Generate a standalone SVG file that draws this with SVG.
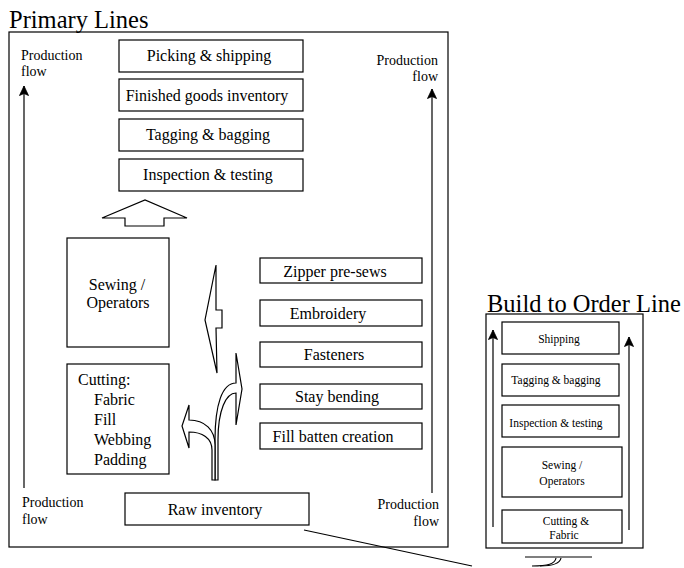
<svg xmlns="http://www.w3.org/2000/svg" width="684" height="568" viewBox="0 0 684 568">
<style>
text{font-family:"Liberation Serif","Times New Roman",serif;fill:#000}
.b{fill:#fff;stroke:#000;stroke-width:1.2}
.f{fill:none;stroke:#000;stroke-width:1.2}
.t16{font-size:16px}
.t14{font-size:14px}
.t11{font-size:11.5px}
.ttl{font-size:24.5px}
.m{text-anchor:middle}
.e{text-anchor:end}
</style>
<defs>
<marker id="ah" markerWidth="11" markerHeight="10" refX="10" refY="5" orient="auto" markerUnits="userSpaceOnUse" viewBox="0 0 11 10">
<path d="M0.5,0.5 L10,5 L0.5,9.5 L2.5,5 Z" fill="#000" stroke="#000" stroke-width="0.8" stroke-linejoin="miter"/>
</marker>
</defs>
<rect width="684" height="568" fill="#fff"/>

<g id="primary-frame">
<text class="ttl" x="9" y="28">Primary Lines</text>
<rect class="f" x="9" y="32" width="439" height="515"/>
</g>

<g id="bto-frame">
<text class="ttl" x="487" y="312">Build to Order Line</text>
<rect class="f" x="486" y="314" width="157" height="234"/>
</g>

<g id="connectors">
<line class="f" x1="24" y1="488" x2="24" y2="86" marker-end="url(#ah)"/>
<line class="f" x1="432" y1="493" x2="432" y2="89" marker-end="url(#ah)"/>
<line class="f" x1="493" y1="527" x2="493" y2="330" marker-end="url(#ah)"/>
<line class="f" x1="629" y1="530" x2="629" y2="337" marker-end="url(#ah)"/>
<line class="f" x1="304" y1="530" x2="472" y2="566"/>
<polygon class="b" points="102,218 145,200 187,218 164,218 164,226 125,226 125,218"/>
<polygon class="b" points="216,265 216,310 222,310 222,328 216,328 217,373 205,320"/>
<path class="b" d="M215,480 L215,440 C215,405 222,383 236,383 L236,353 L242,389 L236,425 L236,393 C226,393 218,410 218,440 L218,480 Z"/>
<path class="b" d="M212,480 L212,450 C212,438 202,432 189,432 L189,448 L182,426 L189,405 L189,420 C205,420 215,430 215,445 L215,480 Z"/>
<path class="f" d="M525,557 L592,557"/>
<path class="f" d="M532,566 C548,566 555,564 556,558"/>
<path class="f" d="M540,566 C552,566 560,563 561,558"/>
</g>

<g id="label-flow-tl"><text class="t14" x="21" y="60">Production</text><text class="t14" x="21" y="76">flow</text></g>
<g id="label-flow-tr"><text class="t14 e" x="438" y="65">Production</text><text class="t14 e" x="438" y="81">flow</text></g>
<g id="label-flow-bl"><text class="t14" x="22" y="507">Production</text><text class="t14" x="22" y="524">flow</text></g>
<g id="label-flow-br"><text class="t14 e" x="439" y="509">Production</text><text class="t14 e" x="439" y="526">flow</text></g>

<g id="picking"><rect class="b" x="119" y="40" width="184" height="32"/><text class="t16 m" x="209" y="61">Picking &amp; shipping</text></g>
<g id="finished"><rect class="b" x="119" y="79" width="184" height="32"/><text class="t16 m" x="207" y="101">Finished goods inventory</text></g>
<g id="tagging"><rect class="b" x="119" y="119" width="184" height="32"/><text class="t16 m" x="208" y="140">Tagging &amp; bagging</text></g>
<g id="inspection"><rect class="b" x="119" y="159" width="184" height="32"/><text class="t16 m" x="208" y="180">Inspection &amp; testing</text></g>

<g id="sewing"><rect class="b" x="67" y="238" width="102" height="109"/><text class="t16 m" x="117" y="290">Sewing /</text><text class="t16 m" x="118" y="308">Operators</text></g>
<g id="cutting"><rect class="b" x="67" y="364" width="102" height="110"/>
<text class="t16" x="78" y="385">Cutting:</text>
<text class="t16" x="94" y="405">Fabric</text>
<text class="t16" x="94" y="425">Fill</text>
<text class="t16" x="94" y="445">Webbing</text>
<text class="t16" x="94" y="465">Padding</text></g>

<g id="zipper"><rect class="b" x="260" y="258" width="162" height="25"/><text class="t16 m" x="335" y="277">Zipper pre-sews</text></g>
<g id="embroidery"><rect class="b" x="260" y="300" width="162" height="26"/><text class="t16 m" x="328" y="319">Embroidery</text></g>
<g id="fasteners"><rect class="b" x="260" y="342" width="162" height="25"/><text class="t16 m" x="334" y="360">Fasteners</text></g>
<g id="stay"><rect class="b" x="260" y="384" width="162" height="25"/><text class="t16 m" x="337" y="402">Stay bending</text></g>
<g id="fillbatten"><rect class="b" x="260" y="423" width="162" height="26"/><text class="t16 m" x="333" y="442">Fill batten creation</text></g>

<g id="raw"><rect class="b" x="125" y="493" width="184" height="32"/><text class="t16 m" x="215" y="515">Raw inventory</text></g>

<g id="bto-shipping"><rect class="b" x="502" y="322" width="117" height="32"/><text class="t11 m" x="559" y="343">Shipping</text></g>
<g id="bto-tagging"><rect class="b" x="502" y="364" width="117" height="32"/><text class="t11 m" x="556" y="384">Tagging &amp; bagging</text></g>
<g id="bto-inspection"><rect class="b" x="502" y="405" width="117" height="32"/><text class="t11 m" x="556" y="427">Inspection &amp; testing</text></g>
<g id="bto-sewing"><rect class="b" x="502" y="447" width="120" height="50"/><text class="t11 m" x="562" y="469">Sewing /</text><text class="t11 m" x="562" y="485">Operators</text></g>
<g id="bto-cutting"><rect class="b" x="502" y="510" width="120" height="33"/><text class="t11 m" x="566" y="525">Cutting &amp;</text><text class="t11 m" x="564" y="539">Fabric</text></g>
</svg>
